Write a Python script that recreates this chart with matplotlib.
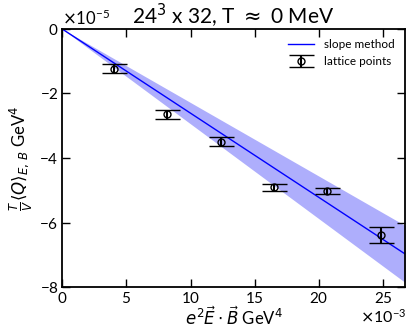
import numpy as np
import matplotlib
matplotlib.use("Agg")
import matplotlib.pyplot as plt

matplotlib.rc('font', family='Lato', size=12)
matplotlib.rc('mathtext', fontset='dejavusans')

# lattice points
x_pts = np.array([4.04, 8.17, 12.34, 16.5, 20.63, 24.8]) * 1e-3
y_pts = np.array([-1.24, -2.64, -3.49, -4.91, -5.03, -6.38]) * 1e-5
y_err = np.array([0.14, 0.14, 0.15, 0.10, 0.09, 0.24]) * 1e-5

# slope method
slope = -2.61e-3
slope_err = 0.33e-3

fig = plt.figure(figsize=(4.08, 3.28), dpi=100)
ax = fig.add_axes([0.152, 0.124, 0.841, 0.788])

xs = np.linspace(0, 0.0267, 50)
ax.fill_between(xs, (slope - slope_err) * xs, (slope + slope_err) * xs,
                color='#aeaefc', lw=0)
ax.plot(xs, slope * xs, color='blue', lw=1, label='slope method')
ax.errorbar(x_pts, y_pts, yerr=y_err, fmt='o', mfc='none', mec='black',
            ms=5, color='black', ecolor='black', capsize=9, elinewidth=1.5,
            capthick=1, label='lattice points')

ax.set_xlim(0, 0.0267)
ax.set_ylim(-8e-5, 0)
ax.set_xticks(np.arange(0, 0.026, 0.005))
ax.set_yticks(np.arange(-8e-5, 1e-6, 2e-5))
ax.ticklabel_format(axis='x', style='sci', scilimits=(-3, -3), useMathText=True)
ax.ticklabel_format(axis='y', style='sci', scilimits=(-5, -5), useMathText=True)
ax.tick_params(direction='in', top=True, right=True, length=6, width=1,
               labelsize=11, pad=2.5)
ax.yaxis.get_offset_text().set_fontsize(12)
for s in ax.spines.values():
    s.set_linewidth(1.3)

# x offset text placed by hand so it stays inside the figure
ax.xaxis.get_offset_text().set_visible(False)
fig.text(0.995, 0.006, r'$\times\mathdefault{10^{-3}}$', ha='right',
         va='bottom', fontsize=11.5)

ax.set_title(r'24$^3$ x 32, T $\approx$ 0 MeV', fontsize=15, pad=3)
ax.set_xlabel(r'$e^2\vec{E}\cdot\vec{B}$ GeV$^4$', fontsize=12, labelpad=-0.5)
ax.set_ylabel(r'$\frac{T}{V}\langle Q\rangle_{E,\,B}$ GeV$^4$', fontsize=12,
              labelpad=3)

ax.legend(loc='upper right', frameon=False, fontsize=8.5, handlelength=2.2)

fig.savefig('out.png', dpi=100)
